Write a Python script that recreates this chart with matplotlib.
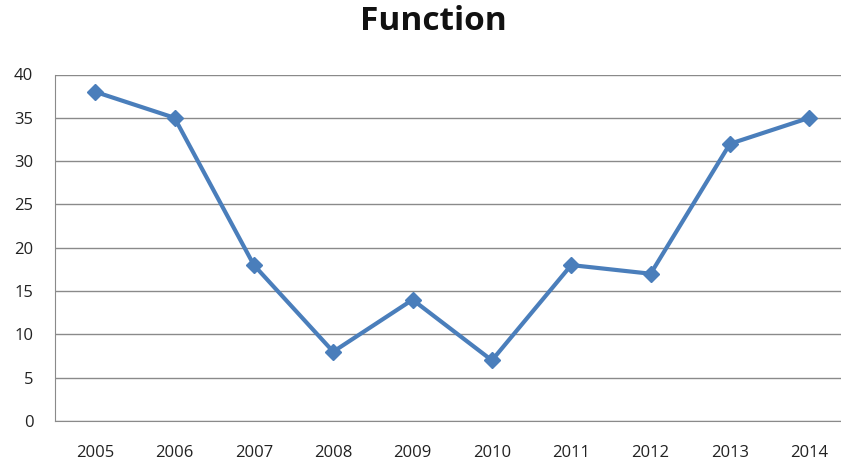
import matplotlib.pyplot as plt

years = ["2005", "2006", "2007", "2008", "2009", "2010", "2011", "2012", "2013", "2014"]
values = [38, 35, 18, 8, 14, 7, 18, 17, 32, 35]

W, H = 841, 463
fig = plt.figure(figsize=(W / 100, H / 100), dpi=100)
# axes spans past the right edge, as in the cropped reference
left, right, top, bottom = 55.5, 849, 74.5, 421
ax = fig.add_axes([left / W, 1 - bottom / H, (right - left) / W, (bottom - top) / H])

x = list(range(len(years)))
ax.plot(x, values, color="#4A7EBB", lw=3, marker="D", ms=8.5,
        mfc="#4A7EBB", mec="#4A7EBB", solid_joinstyle="round", clip_on=False)

ax.set_xlim(-0.5, len(years) - 0.5)
ax.set_ylim(0, 40)
ax.set_yticks(range(0, 41, 5))
ax.set_xticks(x)
ax.set_xticklabels(years)
ax.yaxis.grid(True, color="#8a8a8a", lw=1)
ax.set_axisbelow(True)
for s in ("top", "right"):
    ax.spines[s].set_visible(False)
ax.spines["left"].set_color("#8a8a8a")
ax.spines["bottom"].set_color("#8a8a8a")
ax.tick_params(length=0, labelsize=12, colors="#222222", labelfontfamily="Open Sans")
ax.tick_params(axis="y", pad=16)
ax.tick_params(axis="x", pad=17)

fig.text(433 / W, 1 - 22 / H, "Function", ha="center", va="center",
         fontsize=24, fontweight="bold", family="Open Sans", color="#111111")

fig.savefig("out.png", dpi=100)
